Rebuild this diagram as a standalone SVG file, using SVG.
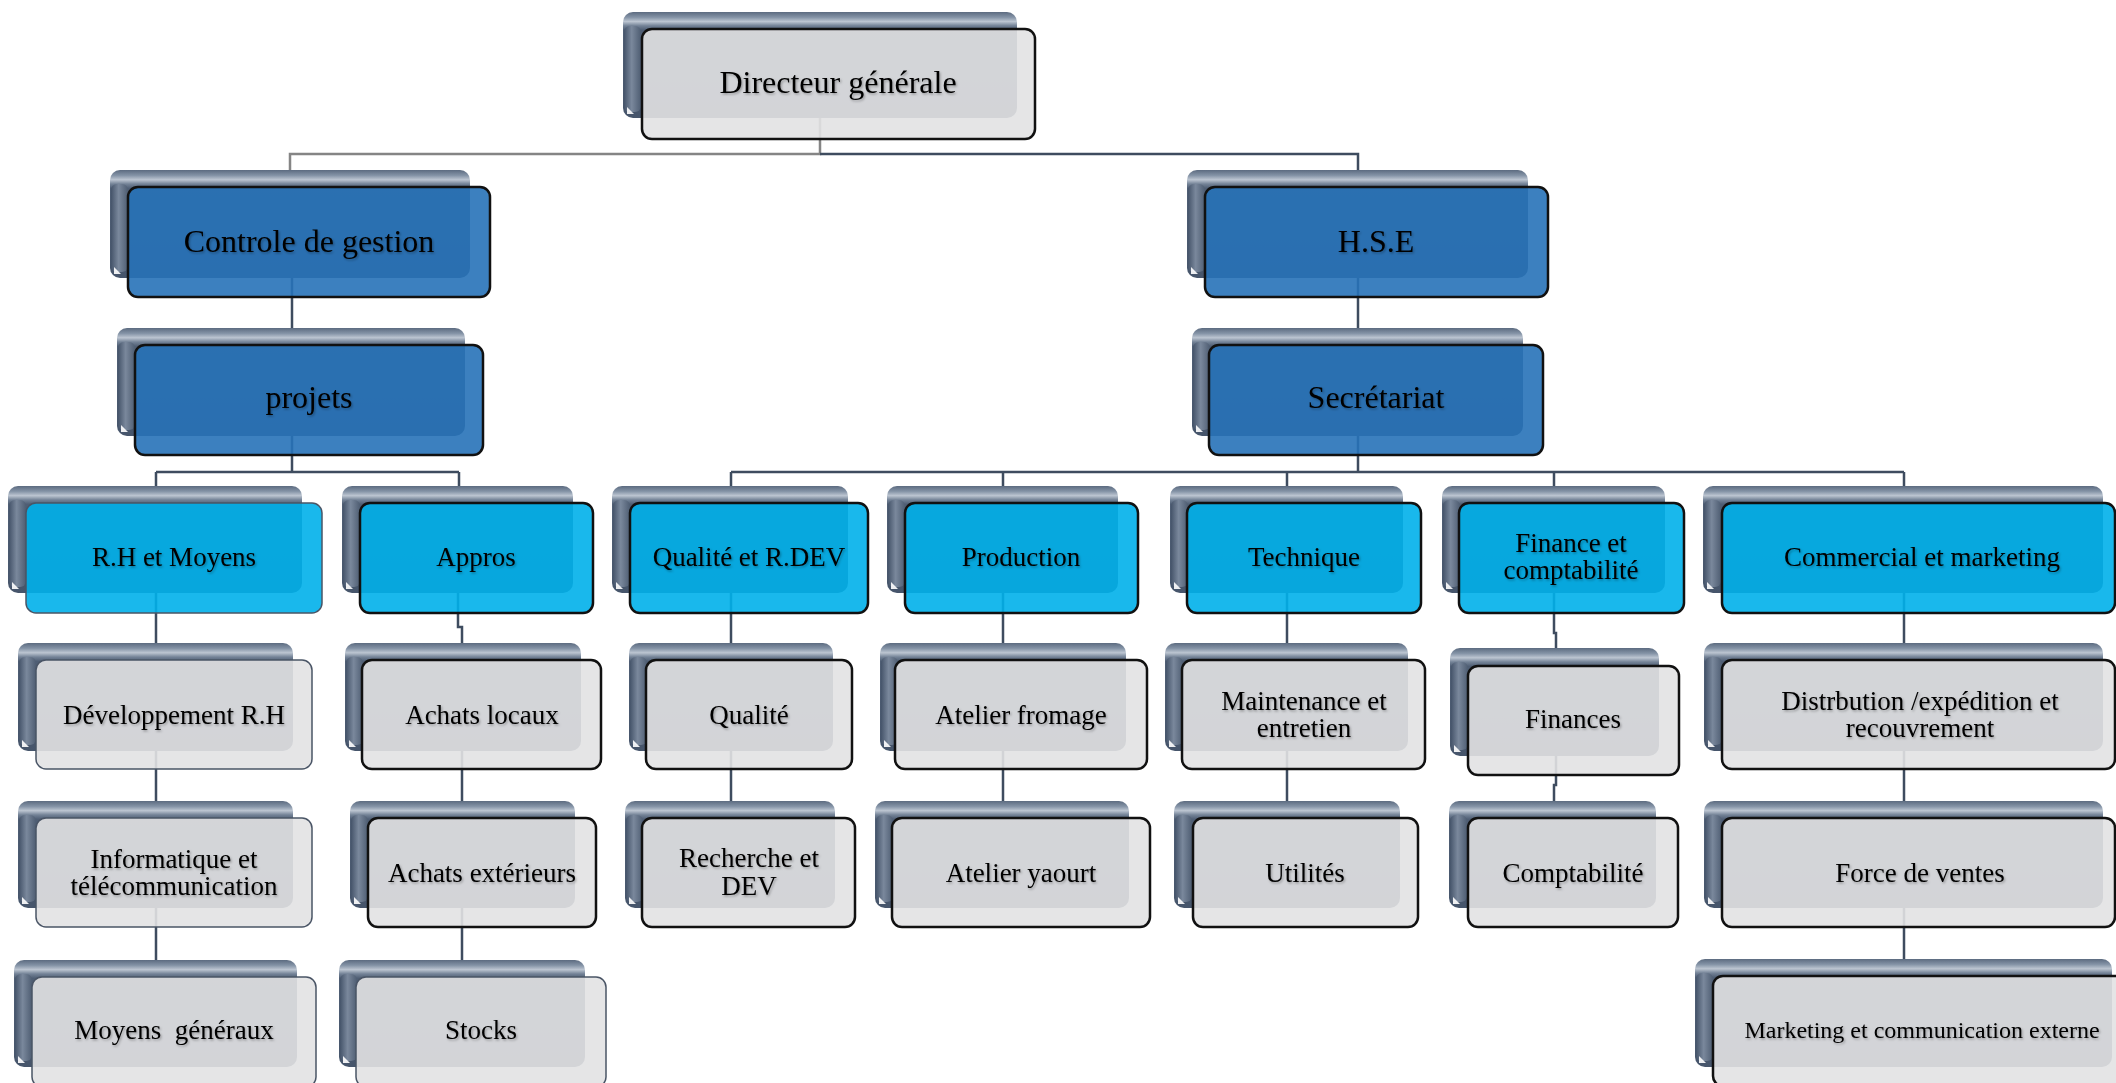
<svg xmlns="http://www.w3.org/2000/svg" width="2116" height="1083" viewBox="0 0 2116 1083">
<defs>
<linearGradient id="gBack" x1="0" y1="0" x2="0" y2="1">
<stop offset="0" stop-color="#5c6b80"/>
<stop offset="0.05" stop-color="#8493a6"/>
<stop offset="0.09" stop-color="#bcc5d1"/>
<stop offset="0.13" stop-color="#738296"/>
<stop offset="0.17" stop-color="#4f5e74"/>
<stop offset="1" stop-color="#46556b"/>
</linearGradient>
<linearGradient id="gLeft" x1="0" y1="0" x2="1" y2="0">
<stop offset="0" stop-color="#45546a"/>
<stop offset="0.45" stop-color="#7a889c"/>
<stop offset="1" stop-color="#4e5d72"/>
</linearGradient>
<filter id="ts" x="-10%" y="-30%" width="120%" height="160%">
<feDropShadow dx="1.2" dy="1.5" stdDeviation="1" flood-color="#000" flood-opacity="0.3"/>
</filter>
<style>
.bk{fill:url(#gBack)}
.bl{fill:url(#gLeft)}
.nt{fill:#ffffff;opacity:0.9}
.fg,.fb,.fc{fill-opacity:0.9;stroke:#111;stroke-width:2.5}
.fg{fill:#e2e2e3}
.fb{fill:#2772b8}
.fc{fill:#00b0ea}
.thin{stroke:#4a5566;stroke-width:1.5}
text{font-family:"Liberation Serif","Times New Roman",serif;fill:#000;text-anchor:middle;filter:url(#ts);white-space:pre}
.t1{font-size:32px}
.t2{font-size:27px}
.t3{font-size:24px}
.cn{fill:none;stroke:#3e4c5f;stroke-width:2.5}
.cg{fill:none;stroke:#858585;stroke-width:2.5}
</style>
</defs>

<g id="connectors">
<path class="cg" d="M820 100 V154 H290 V175"/>
<path class="cn" d="M820 154 H1358 V175"/>
<path class="cn" d="M292 270 V333"/>
<path class="cn" d="M1358 270 V333"/>
<path class="cn" d="M292 430 V472 M156 472 H459 M156 472 V491 M459 472 V491"/>
<path class="cn" d="M1358 430 V472 M731 472 H1904 M731 472 V491 M1003 472 V491 M1287 472 V491 M1554 472 V491 M1904 472 V491"/>
<path class="cn" d="M156 585 V648 M156 745 V806 M156 900 V965"/>
<path class="cn" d="M458 585 V627 H462 V648 M462 745 V806 M462 900 V965"/>
<path class="cn" d="M731 585 V648 M731 745 V806"/>
<path class="cn" d="M1003 585 V648 M1003 745 V806"/>
<path class="cn" d="M1287 585 V648 M1287 745 V806"/>
<path class="cn" d="M1554 585 V633 H1556 V653 M1556 750 V785 H1554 V806"/>
<path class="cn" d="M1904 585 V648 M1904 745 V806 M1904 900 V964"/>
</g>

<g id="n-directeur">
<rect class="bk" x="623" y="12" width="394" height="106" rx="10"/>
<rect class="bl" x="624" y="26" width="17" height="86" rx="6"/>
<path class="nt" d="M627 114 h7 l-7 -7 z"/>
<rect class="fg" x="642" y="29" width="393" height="110" rx="10"/>
<text class="t1" x="838" y="93">Directeur générale</text>
</g>

<g id="n-controle">
<rect class="bk" x="110" y="170" width="360" height="108" rx="10"/>
<rect class="bl" x="111" y="184" width="17" height="88" rx="6"/>
<path class="nt" d="M114 274 h7 l-7 -7 z"/>
<rect class="fb" x="128" y="187" width="362" height="110" rx="10"/>
<text class="t1" x="309" y="252">Controle de gestion</text>
</g>

<g id="n-projets">
<rect class="bk" x="117" y="328" width="348" height="108" rx="10"/>
<rect class="bl" x="118" y="342" width="17" height="88" rx="6"/>
<path class="nt" d="M121 432 h7 l-7 -7 z"/>
<rect class="fb" x="135" y="345" width="348" height="110" rx="10"/>
<text class="t1" x="309" y="408">projets</text>
</g>

<g id="n-hse">
<rect class="bk" x="1187" y="170" width="341" height="108" rx="10"/>
<rect class="bl" x="1188" y="184" width="17" height="88" rx="6"/>
<path class="nt" d="M1191 274 h7 l-7 -7 z"/>
<rect class="fb" x="1205" y="187" width="343" height="110" rx="10"/>
<text class="t1" x="1376" y="252">H.S.E</text>
</g>

<g id="n-secretariat">
<rect class="bk" x="1192" y="328" width="331" height="108" rx="10"/>
<rect class="bl" x="1193" y="342" width="17" height="88" rx="6"/>
<path class="nt" d="M1196 432 h7 l-7 -7 z"/>
<rect class="fb" x="1209" y="345" width="334" height="110" rx="10"/>
<text class="t1" x="1376" y="408">Secrétariat</text>
</g>

<g id="n-rh">
<rect class="bk" x="8" y="486" width="294" height="107" rx="10"/>
<rect class="bl" x="9" y="500" width="17" height="87" rx="6"/>
<path class="nt" d="M12 589 h7 l-7 -7 z"/>
<rect class="fc thin" x="26" y="503" width="296" height="110" rx="10"/>
<text class="t2" x="174" y="566">R.H et Moyens</text>
</g>

<g id="n-appros">
<rect class="bk" x="342" y="486" width="231" height="107" rx="10"/>
<rect class="bl" x="343" y="500" width="17" height="87" rx="6"/>
<path class="nt" d="M346 589 h7 l-7 -7 z"/>
<rect class="fc" x="360" y="503" width="233" height="110" rx="10"/>
<text class="t2" x="476" y="566">Appros</text>
</g>

<g id="n-qualite-rdev">
<rect class="bk" x="612" y="486" width="236" height="107" rx="10"/>
<rect class="bl" x="613" y="500" width="17" height="87" rx="6"/>
<path class="nt" d="M616 589 h7 l-7 -7 z"/>
<rect class="fc" x="630" y="503" width="238" height="110" rx="10"/>
<text class="t2" x="749" y="566">Qualité et R.DEV</text>
</g>

<g id="n-production">
<rect class="bk" x="887" y="486" width="231" height="107" rx="10"/>
<rect class="bl" x="888" y="500" width="17" height="87" rx="6"/>
<path class="nt" d="M891 589 h7 l-7 -7 z"/>
<rect class="fc" x="905" y="503" width="233" height="110" rx="10"/>
<text class="t2" x="1021" y="566">Production</text>
</g>

<g id="n-technique">
<rect class="bk" x="1170" y="486" width="233" height="107" rx="10"/>
<rect class="bl" x="1171" y="500" width="17" height="87" rx="6"/>
<path class="nt" d="M1174 589 h7 l-7 -7 z"/>
<rect class="fc" x="1187" y="503" width="234" height="110" rx="10"/>
<text class="t2" x="1304" y="566">Technique</text>
</g>

<g id="n-finance">
<rect class="bk" x="1442" y="486" width="223" height="107" rx="10"/>
<rect class="bl" x="1443" y="500" width="17" height="87" rx="6"/>
<path class="nt" d="M1446 589 h7 l-7 -7 z"/>
<rect class="fc" x="1459" y="503" width="225" height="110" rx="10"/>
<text class="t2" x="1571" y="552">Finance et</text>
<text class="t2" x="1571" y="579">comptabilité</text>
</g>

<g id="n-commercial">
<rect class="bk" x="1703" y="486" width="400" height="107" rx="10"/>
<rect class="bl" x="1704" y="500" width="17" height="87" rx="6"/>
<path class="nt" d="M1707 589 h7 l-7 -7 z"/>
<rect class="fc" x="1722" y="503" width="393" height="110" rx="10"/>
<text class="t2" x="1922" y="566">Commercial et marketing</text>
</g>

<g id="n-dev-rh">
<rect class="bk" x="18" y="643" width="275" height="108" rx="10"/>
<rect class="bl" x="19" y="657" width="17" height="88" rx="6"/>
<path class="nt" d="M22 747 h7 l-7 -7 z"/>
<rect class="fg thin" x="36" y="660" width="276" height="109" rx="10"/>
<text class="t2" x="174" y="724">Développement R.H</text>
</g>

<g id="n-achats-locaux">
<rect class="bk" x="345" y="643" width="236" height="108" rx="10"/>
<rect class="bl" x="346" y="657" width="17" height="88" rx="6"/>
<path class="nt" d="M349 747 h7 l-7 -7 z"/>
<rect class="fg" x="362" y="660" width="239" height="109" rx="10"/>
<text class="t2" x="482" y="724">Achats locaux</text>
</g>

<g id="n-qualite">
<rect class="bk" x="629" y="643" width="204" height="108" rx="10"/>
<rect class="bl" x="630" y="657" width="17" height="88" rx="6"/>
<path class="nt" d="M633 747 h7 l-7 -7 z"/>
<rect class="fg" x="646" y="660" width="206" height="109" rx="10"/>
<text class="t2" x="749" y="724">Qualité</text>
</g>

<g id="n-atelier-fromage">
<rect class="bk" x="880" y="643" width="246" height="108" rx="10"/>
<rect class="bl" x="881" y="657" width="17" height="88" rx="6"/>
<path class="nt" d="M884 747 h7 l-7 -7 z"/>
<rect class="fg" x="895" y="660" width="252" height="109" rx="10"/>
<text class="t2" x="1021" y="724">Atelier fromage</text>
</g>

<g id="n-maintenance">
<rect class="bk" x="1165" y="643" width="243" height="108" rx="10"/>
<rect class="bl" x="1166" y="657" width="17" height="88" rx="6"/>
<path class="nt" d="M1169 747 h7 l-7 -7 z"/>
<rect class="fg" x="1182" y="660" width="243" height="109" rx="10"/>
<text class="t2" x="1304" y="710">Maintenance et</text>
<text class="t2" x="1304" y="737">entretien</text>
</g>

<g id="n-finances">
<rect class="bk" x="1450" y="648" width="209" height="108" rx="10"/>
<rect class="bl" x="1451" y="662" width="17" height="88" rx="6"/>
<path class="nt" d="M1454 752 h7 l-7 -7 z"/>
<rect class="fg" x="1468" y="666" width="211" height="109" rx="10"/>
<text class="t2" x="1573" y="728">Finances</text>
</g>

<g id="n-distribution">
<rect class="bk" x="1704" y="643" width="399" height="108" rx="10"/>
<rect class="bl" x="1705" y="657" width="17" height="88" rx="6"/>
<path class="nt" d="M1708 747 h7 l-7 -7 z"/>
<rect class="fg" x="1722" y="660" width="393" height="109" rx="10"/>
<text class="t2" x="1920" y="710">Distrbution /expédition et</text>
<text class="t2" x="1920" y="737">recouvrement</text>
</g>

<g id="n-informatique">
<rect class="bk" x="18" y="801" width="275" height="107" rx="10"/>
<rect class="bl" x="19" y="815" width="17" height="87" rx="6"/>
<path class="nt" d="M22 904 h7 l-7 -7 z"/>
<rect class="fg thin" x="36" y="818" width="276" height="109" rx="10"/>
<text class="t2" x="174" y="868">Informatique et</text>
<text class="t2" x="174" y="895">télécommunication</text>
</g>

<g id="n-achats-exterieurs">
<rect class="bk" x="350" y="801" width="225" height="107" rx="10"/>
<rect class="bl" x="351" y="815" width="17" height="87" rx="6"/>
<path class="nt" d="M354 904 h7 l-7 -7 z"/>
<rect class="fg" x="368" y="818" width="228" height="109" rx="10"/>
<text class="t2" x="482" y="882">Achats extérieurs</text>
</g>

<g id="n-recherche">
<rect class="bk" x="625" y="801" width="210" height="107" rx="10"/>
<rect class="bl" x="626" y="815" width="17" height="87" rx="6"/>
<path class="nt" d="M629 904 h7 l-7 -7 z"/>
<rect class="fg" x="642" y="818" width="213" height="109" rx="10"/>
<text class="t2" x="749" y="867">Recherche et</text>
<text class="t2" x="749" y="895">DEV</text>
</g>

<g id="n-atelier-yaourt">
<rect class="bk" x="875" y="801" width="254" height="107" rx="10"/>
<rect class="bl" x="876" y="815" width="17" height="87" rx="6"/>
<path class="nt" d="M879 904 h7 l-7 -7 z"/>
<rect class="fg" x="892" y="818" width="258" height="109" rx="10"/>
<text class="t2" x="1021" y="882">Atelier yaourt</text>
</g>

<g id="n-utilites">
<rect class="bk" x="1174" y="801" width="226" height="107" rx="10"/>
<rect class="bl" x="1175" y="815" width="17" height="87" rx="6"/>
<path class="nt" d="M1178 904 h7 l-7 -7 z"/>
<rect class="fg" x="1193" y="818" width="225" height="109" rx="10"/>
<text class="t2" x="1305" y="882">Utilités</text>
</g>

<g id="n-comptabilite">
<rect class="bk" x="1449" y="801" width="207" height="107" rx="10"/>
<rect class="bl" x="1450" y="815" width="17" height="87" rx="6"/>
<path class="nt" d="M1453 904 h7 l-7 -7 z"/>
<rect class="fg" x="1468" y="818" width="210" height="109" rx="10"/>
<text class="t2" x="1573" y="882">Comptabilité</text>
</g>

<g id="n-force-ventes">
<rect class="bk" x="1704" y="801" width="399" height="107" rx="10"/>
<rect class="bl" x="1705" y="815" width="17" height="87" rx="6"/>
<path class="nt" d="M1708 904 h7 l-7 -7 z"/>
<rect class="fg" x="1722" y="818" width="393" height="109" rx="10"/>
<text class="t2" x="1920" y="882">Force de ventes</text>
</g>

<g id="n-moyens-generaux">
<rect class="bk" x="14" y="960" width="283" height="107" rx="10"/>
<rect class="bl" x="15" y="974" width="17" height="87" rx="6"/>
<path class="nt" d="M18 1063 h7 l-7 -7 z"/>
<rect class="fg thin" x="32" y="977" width="284" height="110" rx="10"/>
<text class="t2" x="174" y="1039">Moyens  généraux</text>
</g>

<g id="n-stocks">
<rect class="bk" x="339" y="960" width="246" height="107" rx="10"/>
<rect class="bl" x="340" y="974" width="17" height="87" rx="6"/>
<path class="nt" d="M343 1063 h7 l-7 -7 z"/>
<rect class="fg thin" x="356" y="977" width="250" height="110" rx="10"/>
<text class="t2" x="481" y="1039">Stocks</text>
</g>

<g id="n-marketing">
<rect class="bk" x="1695" y="959" width="417" height="108" rx="10"/>
<rect class="bl" x="1696" y="973" width="17" height="88" rx="6"/>
<path class="nt" d="M1699 1063 h7 l-7 -7 z"/>
<rect class="fg" x="1713" y="976" width="420" height="110" rx="10"/>
<text class="t3" x="1922" y="1038">Marketing et communication externe</text>
</g>
</svg>
